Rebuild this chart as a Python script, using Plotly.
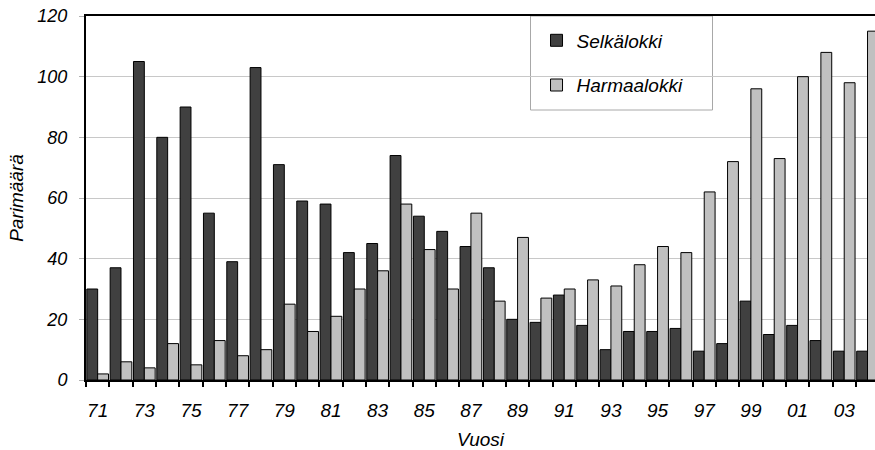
import plotly.graph_objects as go

years = ["71","72","73","74","75","76","77","78","79","80","81","82","83","84","85","86","87",
         "88","89","90","91","92","93","94","95","96","97","98","99","00","01","02","03","04"]
selkalokki = [30,37,105,80,90,55,39,103,71,59,58,42,45,74,54,49,44,
              37,20,19,28,18,10,16,16,17,9.5,12,26,15,18,13,9.5,9.5]
harmaalokki = [2,6,4,12,5,13,8,10,25,16,21,30,36,58,43,30,55,
               26,47,27,30,33,31,38,44,42,62,72,96,73,100,108,98,115]
tick_labels = [y if i % 2 == 0 else "" for i, y in enumerate(years)]
y_ticks = [0, 20, 40, 60, 80, 100, 120]

FONT = "Liberation Sans"
fig = go.Figure()
fig.add_trace(go.Bar(x=years, y=selkalokki, name="<i>Selkälokki</i>",
                     marker=dict(color="#404040", line=dict(color="#000000", width=1)),
                     legendgroup="a"))
fig.add_trace(go.Bar(x=years, y=harmaalokki, name="<i>Harmaalokki</i>",
                     marker=dict(color="#c0c0c0", line=dict(color="#000000", width=1)),
                     legendgroup="b"))

fig.update_layout(
    width=875, height=450,
    margin=dict(l=86, r=0, t=16, b=70, autoexpand=False),
    paper_bgcolor="white", plot_bgcolor="white",
    barmode="group", bargap=0.07, bargroupgap=0,
    font=dict(family=FONT, size=18, color="#000000"),
    legend=dict(x=0.571, y=0.985, xanchor="left", yanchor="top",
                bgcolor="rgba(0,0,0,0)", borderwidth=0,
                font=dict(size=19), tracegroupgap=17, traceorder="grouped"),
    showlegend=True,
)
fig.add_shape(type="rect", xref="paper", yref="paper",
              x0=(530.5-86)/789, x1=(712.5-86)/789, y0=(380-110)/364, y1=1,
              line=dict(color="#a8a8a8", width=1), fillcolor="white", layer="below")

fig.update_xaxes(
    type="category", range=[-0.5, 33.32], automargin=False,
    tickmode="array", tickvals=years, ticktext=[f"<i>{t}</i>" for t in tick_labels],
    tickangle=0, tickfont=dict(size=19), ticklabeloverflow="allow",
    tickson="boundaries", ticks="outside", ticklen=5, tickwidth=2, tickcolor="#000000",
    ticklabelstandoff=12,
    showline=True, linecolor="#000000", linewidth=2, mirror=True,
    showgrid=False,
    title=dict(text="<i>Vuosi</i>", font=dict(size=19), standoff=17),
)
fig.update_yaxes(
    range=[0, 120], tickvals=y_ticks, automargin=False,
    ticktext=[f"<i>{v}</i>" for v in y_ticks], ticklabeloverflow="allow",
    showline=True, linecolor="#000000", linewidth=2,
    showgrid=True, gridcolor="#c8c8c8", gridwidth=1,
    ticks="outside", ticklen=5, tickcolor="#b0b0b0", tickwidth=1,
    ticklabelstandoff=8, zeroline=False,
    title=dict(text="<i>Parimäärä</i>", font=dict(size=19), standoff=9),
)

fig.write_html(
    "out.html",
    config={"displayModeBar": False},
    post_script="document.body.style.margin='0';"
                "document.documentElement.style.overflow='hidden';"
                "document.body.style.overflow='hidden';",
)
